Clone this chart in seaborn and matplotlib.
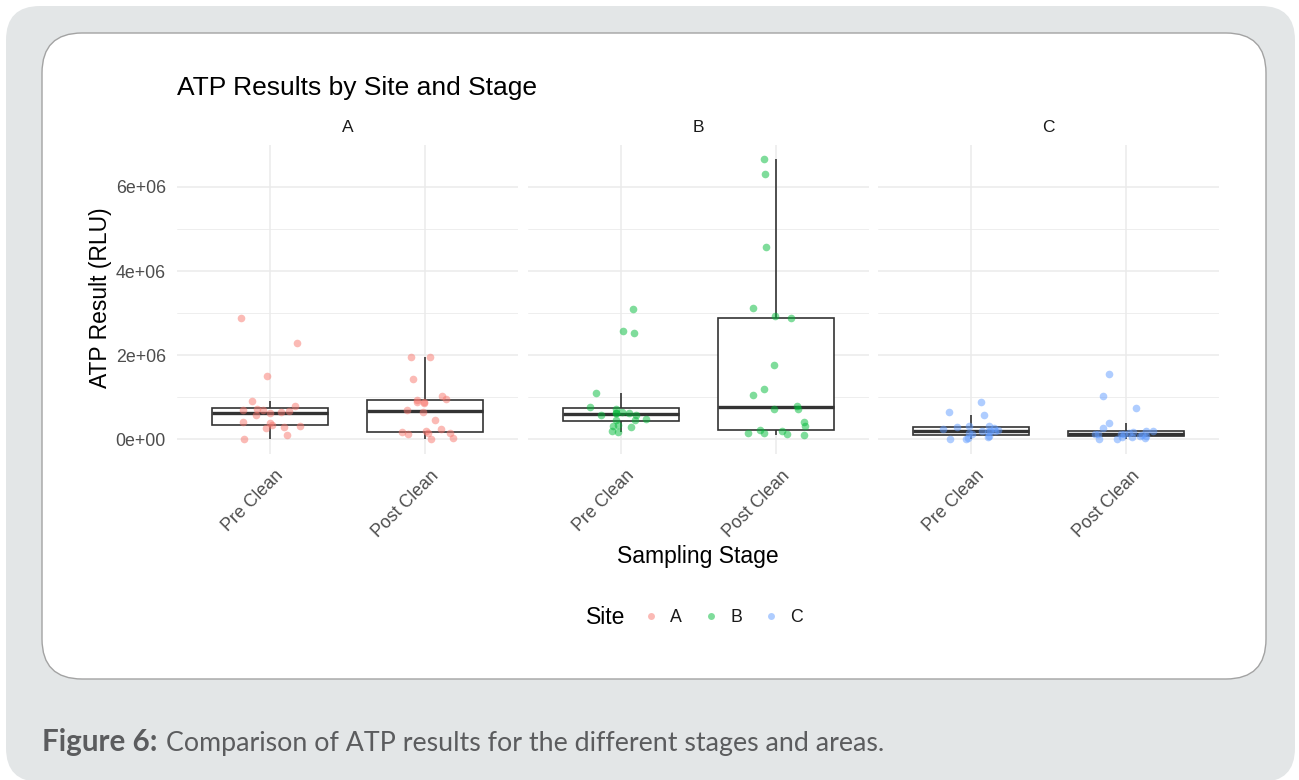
import numpy as np
import pandas as pd
import matplotlib
matplotlib.use("Agg")
import matplotlib.pyplot as plt
import matplotlib.transforms as mtransforms
from matplotlib.patches import FancyBboxPatch
from matplotlib.lines import Line2D
from matplotlib.ticker import FixedLocator, FuncFormatter
import seaborn as sns

# ---- data (ATP readings in RLU) ----
sites = ["A", "B", "C"]
stages = ["Pre Clean", "Post Clean"]

a_pre = [10_000, 110_000, 270_000, 300_000, 330_000, 350_000, 380_000, 410_000, 590_000, 620_000,
         660_000, 670_000, 690_000, 700_000, 720_000, 800_000, 910_000, 1_510_000, 2_290_000, 2_880_000]
a_post = [20_000, 40_000, 130_000, 150_000, 150_000, 180_000, 210_000, 260_000, 460_000, 660_000,
          700_000, 870_000, 900_000, 900_000, 930_000, 960_000, 1_040_000, 1_430_000, 1_950_000, 1_970_000]
b_pre = [170_000, 200_000, 300_000, 330_000, 340_000, 460_000, 460_000, 490_000, 570_000, 590_000,
         620_000, 630_000, 640_000, 660_000, 730_000, 770_000, 1_100_000, 2_530_000, 2_580_000, 3_100_000]
b_post = [110_000, 130_000, 150_000, 150_000, 210_000, 220_000, 330_000, 420_000, 720_000, 730_000,
          800_000, 1_050_000, 1_200_000, 1_770_000, 2_880_000, 2_930_000, 3_130_000, 4_580_000, 6_310_000, 6_660_000]
c_pre = [0, 10_000, 30_000, 70_000, 90_000, 120_000, 150_000, 180_000, 190_000, 200_000,
         210_000, 220_000, 250_000, 270_000, 300_000, 310_000, 330_000, 580_000, 660_000, 880_000]
c_post = [0, 10_000, 30_000, 50_000, 70_000, 80_000, 90_000, 100_000, 120_000, 130_000, 130_000,
          140_000, 150_000, 170_000, 190_000, 210_000, 280_000, 390_000, 760_000, 1_030_000, 1_560_000]

y_ticks = [0, 2_000_000, 4_000_000, 6_000_000]
y_minor = [1_000_000, 3_000_000, 5_000_000, 7_000_000]

site_colors = {"A": "#F8766D", "B": "#00BA38", "C": "#619CFF"}

readings = {("A", "Pre Clean"): a_pre, ("A", "Post Clean"): a_post,
            ("B", "Pre Clean"): b_pre, ("B", "Post Clean"): b_post,
            ("C", "Pre Clean"): c_pre, ("C", "Post Clean"): c_post}
rows = []
for (site, stage), vals in readings.items():
    for v in vals:
        rows.append({"Site": site, "Stage": stage, "ATP": v})
df = pd.DataFrame(rows)

# ---- figure ----
sns.set_theme(style="white")
plt.rcParams["font.family"] = ["Liberation Sans", "DejaVu Sans"]

W, H = 1299, 780
fig = plt.figure(figsize=(W / 100, H / 100), dpi=100)
fig.patch.set_facecolor("white")

# background card
bg = fig.add_axes([0, 0, 1, 1], zorder=-5)
bg.set_xlim(0, W)
bg.set_ylim(H, 0)
bg.axis("off")
bg.add_patch(FancyBboxPatch((6, 6), W - 10, H - 4, boxstyle="round,pad=0,rounding_size=34",
                            facecolor="#e3e6e7", edgecolor="none"))
bg.add_patch(FancyBboxPatch((42, 33), 1224, 646, boxstyle="round,pad=0,rounding_size=40",
                            facecolor="white", edgecolor="#a3a3a3", linewidth=1.0))


def px_rect(x0, y0, x1, y1):
    return [x0 / W, 1 - y1 / H, (x1 - x0) / W, (y1 - y0) / H]


panel_top, panel_bot = 145.2, 453.5
panel_x = [(177, 518), (528, 869), (878, 1219)]
ymin, ymax = -333_000, 6_993_000

grid_c = "#ebebeb"
tick_c = "#4d4d4d"
np.random.seed(7)

for i, site in enumerate(sites):
    x0, x1 = panel_x[i]
    ax = fig.add_axes(px_rect(x0, panel_top, x1, panel_bot))
    ax.set_facecolor("none")
    sub = df[df["Site"] == site]

    sns.boxplot(data=sub, x="Stage", y="ATP", order=stages, width=0.75, color="white",
                linecolor="#333333", linewidth=1.2, showfliers=False, showcaps=False,
                medianprops=dict(linewidth=2.4, color="#333333"), ax=ax)
    sns.stripplot(data=sub, x="Stage", y="ATP", order=stages, color=site_colors[site],
                  alpha=0.5, size=5.5, jitter=0.2, linewidth=0, zorder=3, ax=ax)

    ax.set_xlim(-0.6, 1.6)
    ax.set_ylim(ymin, ymax)
    ax.yaxis.set_major_locator(FixedLocator(y_ticks))
    ax.yaxis.set_minor_locator(FixedLocator(y_minor))
    ax.yaxis.set_major_formatter(FuncFormatter(lambda v, p: f"{v:.0e}"))
    ax.set_axisbelow(True)
    ax.grid(True, which="major", axis="both", color=grid_c, linewidth=1.1)
    ax.grid(True, which="minor", axis="y", color=grid_c, linewidth=0.6)
    for s in ax.spines.values():
        s.set_visible(False)
    ax.tick_params(axis="both", which="both", length=0)
    ax.tick_params(axis="y", pad=8, labelsize=12.8, labelcolor=tick_c)
    ax.tick_params(axis="x", pad=10, labelsize=12.8, labelcolor=tick_c)
    if i > 0:
        ax.tick_params(axis="y", labelleft=False)
    ax.set_xlabel("")
    ax.set_ylabel("")

    offset = mtransforms.ScaledTranslation(5 / 100, 0, fig.dpi_scale_trans)
    for lab in ax.get_xticklabels():
        lab.set_rotation(45)
        lab.set_ha("right")
        lab.set_va("top")
        lab.set_rotation_mode("anchor")
        lab.set_transform(lab.get_transform() + offset)

    # facet strip label
    fig.text(((x0 + x1) / 2) / W, 1 - 128 / H, site, ha="center", va="center",
             fontsize=12.5, color="#1a1a1a")

# titles
fig.text(177 / W, 1 - 95 / H, "ATP Results by Site and Stage", ha="left", va="baseline",
         fontsize=19, color="black")
fig.text(698 / W, 1 - 556 / H, "Sampling Stage", ha="center", va="center", fontsize=16.5,
         color="black")
fig.text(100 / W, 1 - 298 / H, "ATP Result (RLU)", ha="center", va="center", rotation=90,
         fontsize=16.5, color="black")

# legend
fig.text(586 / W, 1 - 618 / H, "Site", ha="left", va="center", fontsize=16.5, color="black")
handles = [Line2D([], [], marker="o", linestyle="", color=site_colors[s], alpha=0.5,
                  markersize=5, markeredgewidth=0) for s in sites]
fig.legend(handles, sites, ncol=3, loc="center left", bbox_to_anchor=(642 / W, 1 - 618 / H),
           frameon=False, fontsize=12.8, handlelength=1.0, handletextpad=0.6,
           columnspacing=1.1, borderpad=0, borderaxespad=0, labelcolor="#1a1a1a")

# caption
cap_c = "#5b5c5e"
t1 = fig.text(42 / W, 1 - 751 / H, "Figure 6:", ha="left", va="baseline", fontsize=21.3,
              fontweight="bold", color=cap_c, family=["Lato", "DejaVu Sans"])
fig.canvas.draw()
bb = t1.get_window_extent(renderer=fig.canvas.get_renderer())
fig.text((bb.x1 + 9) / W, 1 - 751 / H, "Comparison of ATP results for the different stages and areas.",
         ha="left", va="baseline", fontsize=19.3, color=cap_c, family=["Lato", "DejaVu Sans"])

fig.savefig("out.png", dpi=100, facecolor="white")
